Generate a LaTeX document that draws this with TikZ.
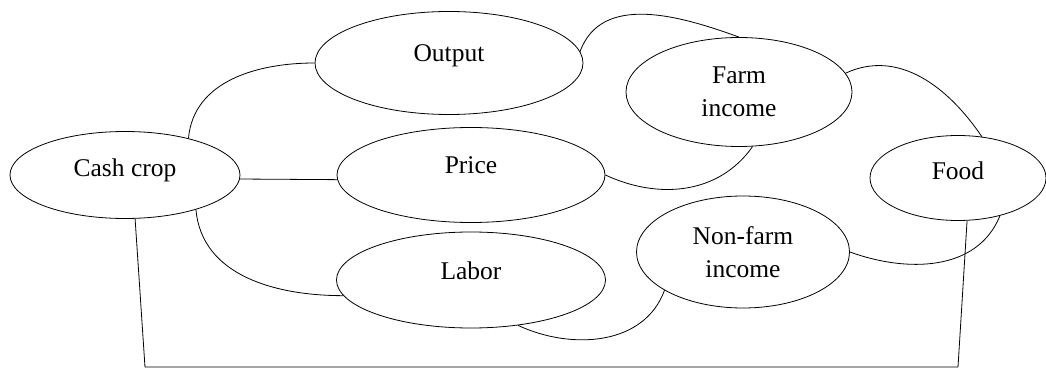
\documentclass[tikz,border=0pt]{standalone}
\usepackage{fontspec}
\setmainfont{Liberation Serif}
\usepackage{tikz}
\usetikzlibrary{shapes}
\tikzstyle{bub} = [ellipse, draw, align=center, inner sep=0pt,
    font=\fontsize{25.5}{33}\selectfont]
\tikzstyle{lift} = [text height=17pt, text depth=19pt]

\begin{document}
\begin{tikzpicture}[thick,node distance=110pt]

  \useasboundingbox (-125pt,-194pt) rectangle (921pt,175pt);

  \node[bub, lift, text depth=13pt, minimum width=230pt, minimum height=87pt] (cash) {Cash crop};
  \node[bub, lift, minimum width=268pt, minimum height=95pt] (price) [right of=cash, xshift=236pt] {Price};
  \node[bub, lift, minimum width=268pt, minimum height=103pt] (output) [above of=price, xshift=-22pt, yshift=2pt] {Output};
  \node[bub, lift, minimum width=269pt, minimum height=96pt] (labor) [below of=price, yshift=5pt] {Labor};
  \node[bub, minimum width=226pt, minimum height=109pt] (farm) [right of=output, xshift=180pt, yshift=-29pt] {Farm\\income};
  \node[bub, minimum width=213pt, minimum height=112pt] (nonfarm) [right of=labor, xshift=162pt, yshift=28pt] {Non-farm\\income};
  \node[bub, lift, text depth=13pt, minimum width=176pt, minimum height=85pt] (food) [right of=price, xshift=377pt, yshift=-3pt] {Food};

  % loop under the whole picture
  \coordinate (loopL) at ([xshift=20pt,yshift=-192pt]cash.center);
  \coordinate (loopR) at ([xshift=833pt,yshift=-192pt]cash.center);

  \draw (cash.30) to[out=85,in=180] (output.west);
  \draw (cash.-2) -- (price.182);
  \draw (cash.-26) to[out=-85,in=180] (labor.187);
  \draw (output.5) to[out=70,in=160] (farm.north);
  \draw (price.east) to[out=-25,in=-125] (farm.-76);
  \draw (farm.10) to[out=25,in=124] (food.60);
  \draw (nonfarm.east) to[out=-20,in=-112] (food.-42);
  \draw (labor.-44) to[out=-25,in=-110] (nonfarm.206);
  \draw (cash.-77) -- (loopL) -- (loopR) -- (food.-78);
\end{tikzpicture}
\end{document}
